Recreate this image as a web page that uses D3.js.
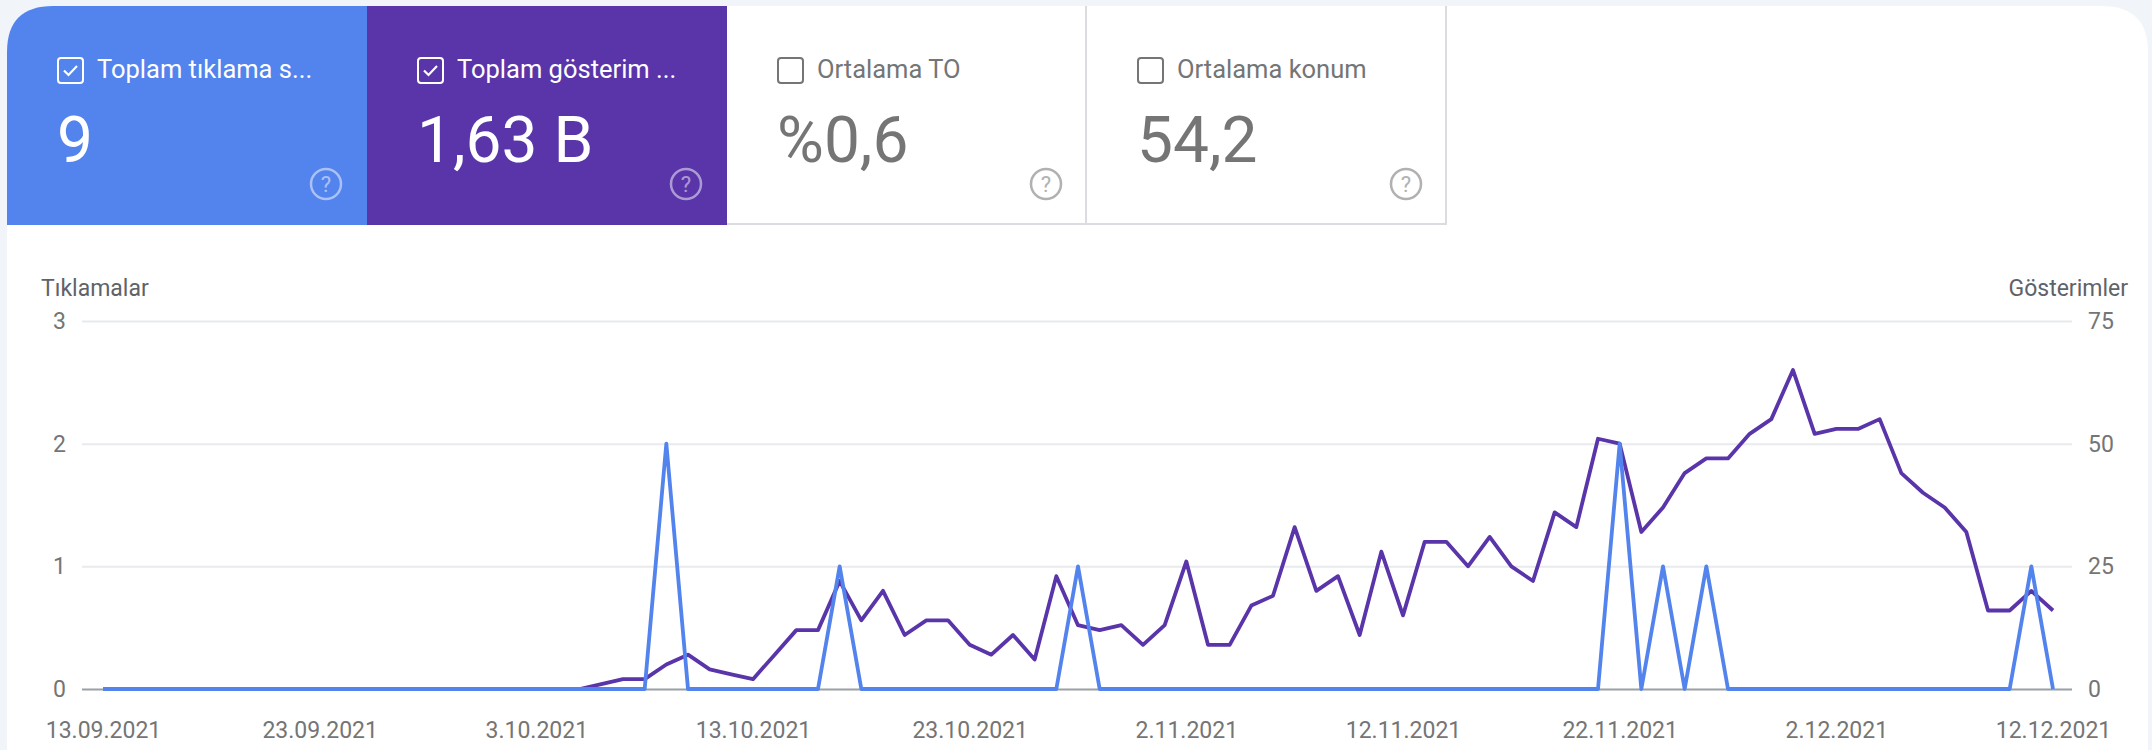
<!DOCTYPE html>
<html>
<head>
<meta charset="utf-8">
<script src="https://cdn.jsdelivr.net/npm/d3@7"></script>
<style>
  body { margin: 0; background: #f1f4f9; font-family: Roboto, "Noto Sans", sans-serif; }
  svg { display: block; }
</style>
</head>
<body>
<div id="chart"></div>
<script>
const W = 2152, H = 750;

// cards
const cardLabels = ["Toplam tıklama s...", "Toplam gösterim ...", "Ortalama TO", "Ortalama konum"];
const cardValues = ["9", "1,63 B", "%0,6", "54,2"];
const cardChecked = [true, true, false, false];

// daily series, 13.09.2021 - 12.12.2021
const startDate = new Date(2021, 8, 13);
const clicks = [
    0, 0, 0, 0, 0, 0, 0, 0, 0, 0,
    0, 0, 0, 0, 0, 0, 0, 0, 0, 0,
    0, 0, 0, 0, 0, 0, 2, 0, 0, 0,
    0, 0, 0, 0, 1, 0, 0, 0, 0, 0,
    0, 0, 0, 0, 0, 1, 0, 0, 0, 0,
    0, 0, 0, 0, 0, 0, 0, 0, 0, 0,
    0, 0, 0, 0, 0, 0, 0, 0, 0, 0,
    2, 0, 1, 0, 1, 0, 0, 0, 0, 0,
    0, 0, 0, 0, 0, 0, 0, 0, 0, 1,
    0
];
const impressions = [
    0, 0, 0, 0, 0, 0, 0, 0, 0, 0,
    0, 0, 0, 0, 0, 0, 0, 0, 0, 0,
    0, 0, 0, 1, 2, 2, 5, 7, 4, 3,
    2, 7, 12, 12, 22, 14, 20, 11, 14, 14,
    9, 7, 11, 6, 23, 13, 12, 13, 9, 13,
    26, 9, 9, 17, 19, 33, 20, 23, 11, 28,
    15, 30, 30, 25, 31, 25, 22, 36, 33, 51,
    50, 32, 37, 44, 47, 47, 52, 55, 65, 52,
    53, 53, 55, 44, 40, 37, 32, 16, 16, 20,
    16
];
const leftTicks = [0, 1, 2, 3];
const rightTicks = [0, 25, 50, 75];
const xTickDays = [0, 10, 20, 30, 40, 50, 60, 70, 80, 90];

const BLUE = "#5383ec";
const PURPLE = "#5935a9";

const svg = d3.select("#chart").append("svg")
    .attr("width", W)
    .attr("height", H);

// white panel with rounded top corners
const PX0 = 7, PX1 = 2148, PY0 = 6, R = 46;
svg.append("path")
    .attr("d", `M${PX0},${H} L${PX0},${PY0 + R} Q${PX0},${PY0} ${PX0 + R},${PY0} L${PX1 - R},${PY0} Q${PX1},${PY0} ${PX1},${PY0 + R} L${PX1},${H} Z`)
    .attr("fill", "#fff");

// ---- metric cards
const CARD_W = 360, CARD_H = 219;
const cardFills = [BLUE, PURPLE, "#fff", "#fff"];

cardLabels.forEach((label, i) => {
    const cx = PX0 + i * CARD_W;
    const g = svg.append("g").attr("transform", `translate(${cx},${PY0})`);
    const dark = i < 2;
    const fg = dark ? "#fff" : "#757575";

    if (i === 0) {
        g.append("path")
            .attr("d", `M0,${CARD_H} L0,${R} Q0,0 ${R},0 L${CARD_W},0 L${CARD_W},${CARD_H} Z`)
            .attr("fill", cardFills[i]);
    } else {
        g.append("rect")
            .attr("width", CARD_W).attr("height", CARD_H)
            .attr("fill", cardFills[i]);
    }
    if (!dark) {
        g.append("line")
            .attr("x1", CARD_W - 1).attr("x2", CARD_W - 1)
            .attr("y1", 0).attr("y2", CARD_H)
            .attr("stroke", "#dadce0").attr("stroke-width", 2);
        g.append("line")
            .attr("x1", 0).attr("x2", CARD_W)
            .attr("y1", CARD_H - 1).attr("y2", CARD_H - 1)
            .attr("stroke", "#dadce0").attr("stroke-width", 2);
    }

    // checkbox
    g.append("rect")
        .attr("x", 51).attr("y", 52)
        .attr("width", 25).attr("height", 25)
        .attr("rx", 3)
        .attr("fill", "none")
        .attr("stroke", fg)
        .attr("stroke-width", 2);
    if (cardChecked[i]) {
        g.append("path")
            .attr("d", "M57,64.5 L61.5,69 L70,60")
            .attr("fill", "none")
            .attr("stroke", fg)
            .attr("stroke-width", 2.2);
    }

    g.append("text")
        .attr("x", 90).attr("y", 72)
        .attr("font-size", 25.5)
        .attr("fill", fg)
        .text(label);

    g.append("text")
        .attr("x", 50).attr("y", 156)
        .attr("font-size", 64)
        .attr("fill", fg)
        .text(cardValues[i]);

    // help icon
    const hg = g.append("g")
        .attr("transform", "translate(319,178)")
        .attr("opacity", dark ? 0.5 : 0.8);
    hg.append("circle")
        .attr("r", 15)
        .attr("fill", "none")
        .attr("stroke", dark ? "#fff" : "#9e9e9e")
        .attr("stroke-width", 2.5);
    hg.append("text")
        .attr("text-anchor", "middle")
        .attr("y", 8)
        .attr("font-size", 22)
        .attr("fill", dark ? "#fff" : "#9e9e9e")
        .text("?");
});

// ---- chart
const X0 = 103, X1 = 2053;
const GX0 = 82, GX1 = 2072;
const Y0 = 689, Y1 = 321;

const dates = clicks.map((d, i) => d3.timeDay.offset(startDate, i));

const x = d3.scaleTime()
    .domain([dates[0], dates[dates.length - 1]])
    .range([X0, X1]);
const yL = d3.scaleLinear().domain([0, 3]).range([Y0, Y1]);
const yR = d3.scaleLinear().domain([0, 75]).range([Y0, Y1]);

const fmt = d3.timeFormat("%-d.%m.%Y");

// gridlines + left labels
const gl = svg.append("g")
    .attr("transform", `translate(${GX0},0)`)
    .call(d3.axisLeft(yL).tickValues(leftTicks).tickFormat(d3.format("d"))
        .tickSize(-(GX1 - GX0)).tickPadding(16));
gl.select(".domain").remove();
gl.selectAll(".tick line")
    .attr("stroke", (d) => d === 0 ? "#9aa0a6" : "#e8eaed")
    .attr("stroke-width", 2);
gl.selectAll(".tick text")
    .attr("font-size", 23)
    .attr("font-family", "Roboto")
    .attr("fill", "#757575");

const gr = svg.append("g")
    .attr("transform", `translate(${GX1},0)`)
    .call(d3.axisRight(yR).tickValues(rightTicks).tickSize(0).tickPadding(16));
gr.select(".domain").remove();
gr.selectAll(".tick text")
    .attr("font-size", 23)
    .attr("font-family", "Roboto")
    .attr("fill", "#757575");

const gx = svg.append("g")
    .attr("transform", `translate(0,${Y0})`)
    .call(d3.axisBottom(x)
        .tickValues(xTickDays.map((i) => dates[i]))
        .tickFormat(fmt)
        .tickSize(0).tickPadding(33));
gx.select(".domain").remove();
gx.selectAll(".tick text")
    .attr("font-size", 23)
    .attr("font-family", "Roboto")
    .attr("fill", "#757575");

// axis titles
svg.append("text")
    .attr("x", 41).attr("y", 296)
    .attr("font-size", 23)
    .attr("fill", "#5f6368")
    .text("Tıklamalar");
svg.append("text")
    .attr("x", 2128).attr("y", 296)
    .attr("text-anchor", "end")
    .attr("font-size", 23)
    .attr("fill", "#5f6368")
    .text("Gösterimler");

// lines
const impLine = d3.line()
    .x((d, i) => x(dates[i]))
    .y((d) => yR(d));
const clkLine = d3.line()
    .x((d, i) => x(dates[i]))
    .y((d) => yL(d));

svg.append("path")
    .datum(impressions)
    .attr("d", impLine)
    .attr("fill", "none")
    .attr("stroke", PURPLE)
    .attr("stroke-width", 3.8)
    .attr("stroke-linejoin", "round");

svg.append("path")
    .datum(clicks)
    .attr("d", clkLine)
    .attr("fill", "none")
    .attr("stroke", BLUE)
    .attr("stroke-width", 3.8)
    .attr("stroke-linejoin", "round");
</script>
</body>
</html>
